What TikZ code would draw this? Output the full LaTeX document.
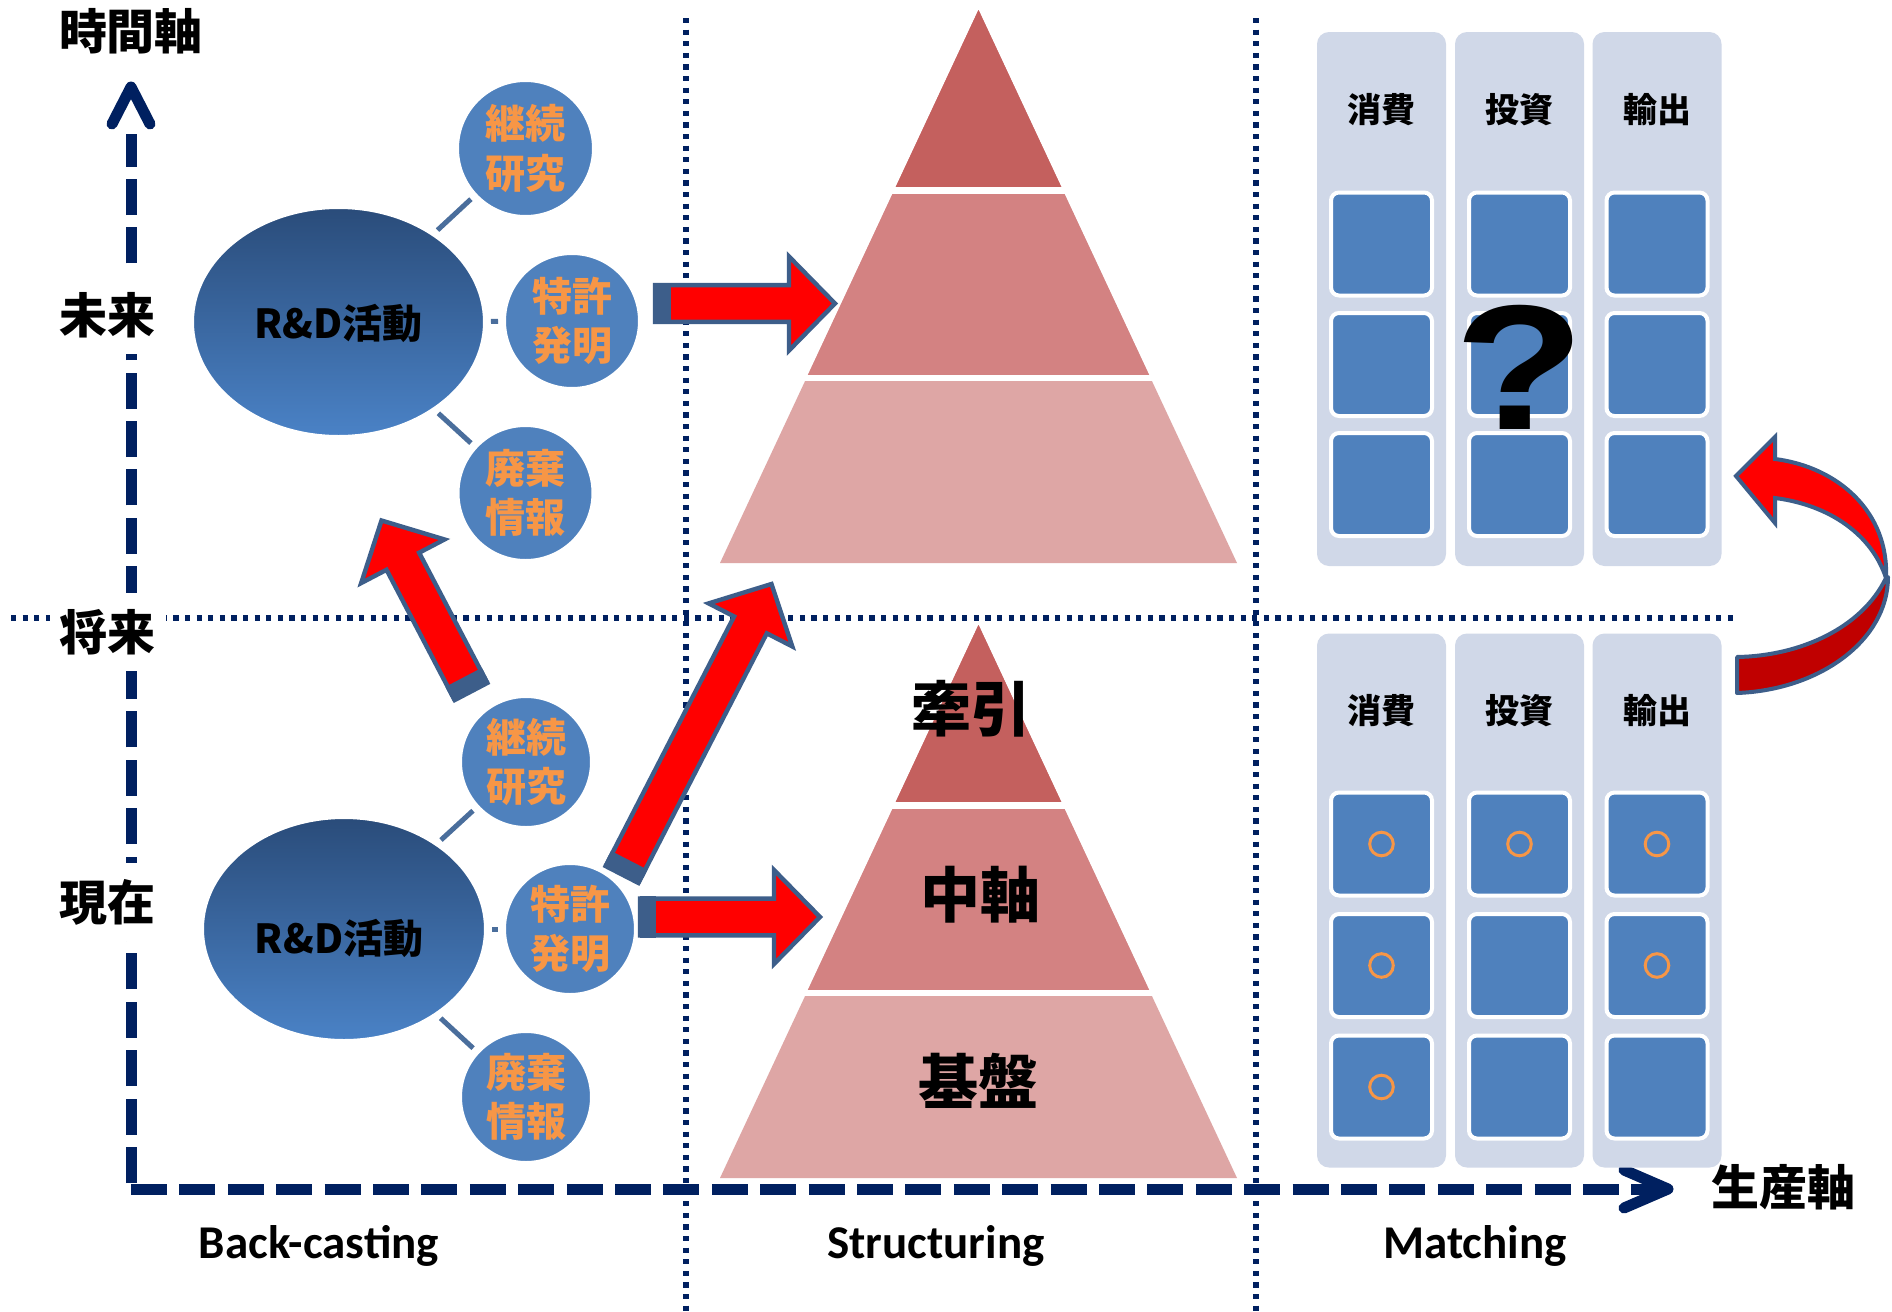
\documentclass[tikz,border=0pt]{standalone}
\usepackage{fontspec}
\setmainfont{Carlito}
\newfontfamily\jp{Noto Sans CJK JP}
\newfontfamily\qfont{Liberation Sans}
\usetikzlibrary{calc,shapes.geometric}

\definecolor{navy}{HTML}{002060}
\definecolor{tierA}{HTML}{C4605E}
\definecolor{tierB}{HTML}{D38282}
\definecolor{tierC}{HTML}{DEA6A5}
\definecolor{accblue}{HTML}{4F81BD}
\definecolor{orng}{HTML}{F79646}
\definecolor{panelbg}{HTML}{D0D8E8}
\definecolor{arrowedge}{HTML}{3D5E8A}
\definecolor{darkred}{HTML}{C00000}
\definecolor{linkblue}{HTML}{4A6E9C}
\definecolor{elltop}{HTML}{2A4C7A}
\definecolor{ellbot}{HTML}{4A82C6}

% three-tier pyramid, apex at (978.5,10), base at y=563
\newcommand\tieredpyramid{%
  \fill[tierC] (720,563) -- (1237,563) -- (978.5,10) -- cycle;
  \fill[tierB] (806.7,377.5) -- (1150.3,377.5) -- (978.5,10) -- cycle;
  \fill[tierA] (894.1,190.5) -- (1062.9,190.5) -- (978.5,10) -- cycle;
  \draw[white, line width=3.2pt] (880,190.5) -- (1077,190.5);
  \draw[white, line width=3pt] (792,377.5) -- (1165,377.5);
}

% straight block arrow from #1 (tail) to #2 (tip)
\newcommand\blockarrow[2]{%
  \filldraw[arrowbody]
    ($(#1)!9.2pt!90:(#2)$) --
    ($(#2)!23pt!(#1)!9.2pt!-90:(#1)$) --
    ($(#2)!23pt!(#1)!23.5pt!-90:(#1)$) --
    (#2) --
    ($(#2)!23pt!(#1)!23.5pt!90:(#1)$) --
    ($(#2)!23pt!(#1)!9.2pt!90:(#1)$) --
    ($(#1)!9.2pt!-90:(#2)$) -- cycle;
  \fill[arrowedge]
    ($(#1)!10.3pt!90:(#2)$) --
    ($(#1)!8pt!(#2)!10.3pt!90:(#2)$) --
    ($(#1)!8pt!(#2)!10.3pt!-90:(#2)$) --
    ($(#1)!10.3pt!-90:(#2)$) -- cycle;
}

\begin{document}
\begin{tikzpicture}[x=0.5pt, y=-0.5pt,
  axislabel/.style={font=\jp\bfseries\fontsize{24pt}{28pt}\selectfont,
    fill=white, inner xsep=5pt, inner ysep=8pt},
  stage/.style={font=\bfseries\fontsize{23.5pt}{27pt}\selectfont, anchor=base},
  rnd/.style={ellipse, top color=elltop, bottom color=ellbot, draw=white,
    line width=1pt, inner sep=0pt},
  rndtext/.style={font=\jp\bfseries\fontsize{20pt}{24pt}\selectfont, inner sep=0pt},
  bubble/.style={circle, fill=accblue, draw=white, line width=1pt, inner sep=0pt,
    align=center, text=orng, font=\jp\bfseries\fontsize{20pt}{24.75pt}\selectfont},
  link/.style={draw=linkblue, line width=2.5pt, shorten <=3pt, shorten >=3pt},
  dotline/.style={navy, line width=2.6pt, dash pattern=on 2.6pt off 3.2pt},
  axisline/.style={navy, line width=5.5pt, dash pattern=on 18pt off 6.2pt},
  axishead/.style={navy, line width=5.5pt, line cap=round, line join=round},
  arrowbody/.style={fill=red, draw=arrowedge, line width=2.2pt, line join=miter},
  panelcol/.style={rounded corners=6pt, fill=panelbg, minimum width=64.5pt,
    minimum height=267pt, inner sep=0pt},
  slot/.style={rounded corners=4pt, fill=accblue, draw=white, line width=2pt,
    minimum width=50.5pt, minimum height=51.5pt, inner sep=0pt},
  colhead/.style={font=\jp\bfseries\fontsize{17pt}{20pt}\selectfont},
  tierlabel/.style={font=\jp\bfseries\fontsize{30pt}{34pt}\selectfont},
  okmark/.style={circle, draw=orng, line width=1.5pt, minimum size=11.8pt, inner sep=0pt}]

\useasboundingbox[fill=white] (0,0) rectangle (1892,1312);

% dotted guide lines
\draw[dotline] (686,18) -- (686,1312);
\draw[dotline] (1256,18) -- (1256,1312);
\draw[dotline] (11,618) -- (1734,618);

% pyramids
\tieredpyramid
\begin{scope}[shift={(0,615)}]
  \tieredpyramid
\end{scope}
\node[tierlabel] (pull) at (971,709) {牽引};
\node[tierlabel] (core) at (980,895) {中軸};
\node[tierlabel] (base) at (978,1081) {基盤};

% axes
\draw[axisline] (131,1183) -- (131,134);
\draw[axishead] (112,124) -- (131,87) -- (150,124);
\draw[axisline] (131,1189) -- (1662,1189);
\draw[axishead] (1624,1170) -- (1668,1189) -- (1624,1208);

\node[axislabel] (tax) at (131,31) {時間軸};
\node[axislabel] (fut) at (108,315) {未来};
\node[axislabel] (nf) at (108,632) {将来};
\node[axislabel] (now) at (108,902) {現在};
\node[axislabel] (pax) at (1783,1187) {生産軸};

\node[stage] (bc) at (319,1258) {Back-casting};
\node[stage] (st) at (936,1258) {Structuring};
\node[stage] (mt) at (1475,1258) {Matching};

% R&D clusters
\node[rnd, minimum width=145.5pt, minimum height=114pt] (rdU) at (338.5,322) {};
\node[rndtext] (rdUt) at (338.5,323) {R\&D活動};
\node[bubble, minimum size=67.5pt] (kzU) at (525.5,148.5) {継続\\研究};
\node[bubble, minimum size=67pt] (tkU) at (572,321) {特許\\発明};
\node[bubble, minimum size=67pt] (hkU) at (525.5,493) {廃棄\\情報};
\draw[link] (rdU) -- (kzU);
\draw[link] (rdU) -- (tkU);
\draw[link] (rdU) -- (hkU);

\node[rnd, minimum width=141pt, minimum height=111pt] (rdL) at (344,929) {};
\node[rndtext] (rdLt) at (339,938) {R\&D活動};
\node[bubble, minimum size=65pt] (kzL) at (526,762) {継続\\研究};
\node[bubble, minimum size=65pt] (tkL) at (570,929) {特許\\発明};
\node[bubble, minimum size=65pt] (hkL) at (526,1097) {廃棄\\情報};
\draw[link] (rdL) -- (kzL);
\draw[link] (rdL) -- (tkL);
\draw[link] (rdL) -- (hkL);

% red block arrows
\coordinate (a1s) at (471,691.5);
\coordinate (a1t) at (381.5,520.5);
\coordinate (a2s) at (622,874.5);
\coordinate (a2t) at (771.5,584);
\coordinate (a3s) at (655,303.5);
\coordinate (a3t) at (835,303.5);
\coordinate (a4s) at (640,917);
\coordinate (a4t) at (820,917);
\blockarrow{a1s}{a1t}
\blockarrow{a2s}{a2t}
\blockarrow{a3s}{a3t}
\blockarrow{a4s}{a4t}

% matching panels
\foreach \cx [count=\i] in {1381.5,1519.5,1657}{
  \node[panelcol] (pu\i) at (\cx,299) {};
  \node[panelcol] (pl\i) at (\cx,900.5) {};
  \foreach \ry [count=\j] in {244,364.5,484.5}
    \node[slot] (su\i\j) at (\cx,\ry) {};
  \foreach \ry [count=\j] in {844,965.5,1087}
    \node[slot] (sl\i\j) at (\cx,\ry) {};
}
\node[colhead] (hu1) at (1381.5,110) {消費};
\node[colhead] (hu2) at (1519.5,110) {投資};
\node[colhead] (hu3) at (1657,110) {輸出};
\node[colhead] (hl1) at (1381.5,711) {消費};
\node[colhead] (hl2) at (1519.5,711) {投資};
\node[colhead] (hl3) at (1657,711) {輸出};

\node[okmark] (ok11) at (sl11) {};
\node[okmark] (ok12) at (sl12) {};
\node[okmark] (ok13) at (sl13) {};
\node[okmark] (ok21) at (sl21) {};
\node[okmark] (ok31) at (sl31) {};
\node[okmark] (ok32) at (sl32) {};

\node[font=\qfont\bfseries\fontsize{89pt}{90pt}\selectfont, xscale=1.2, inner sep=0pt]
  (qm) at (1520,367) {?};

% curved return arrow
\filldraw[fill=red, draw=arrowedge, line width=2pt, line join=miter]
  (1775,459) -- (1775,437) -- (1736,476) -- (1775,523) -- (1775,498)
  .. controls (1830,505) and (1872,535) .. (1886,578)
  .. controls (1889,512) and (1838,467) .. (1775,459) -- cycle;
\filldraw[fill=darkred, draw=arrowedge, line width=2pt, line join=round]
  (1888,577) .. controls (1888,640) and (1820,690) .. (1737,693)
  -- (1737,657) .. controls (1800,656) and (1862,628) .. (1886,578) -- cycle;

\end{tikzpicture}
\end{document}
